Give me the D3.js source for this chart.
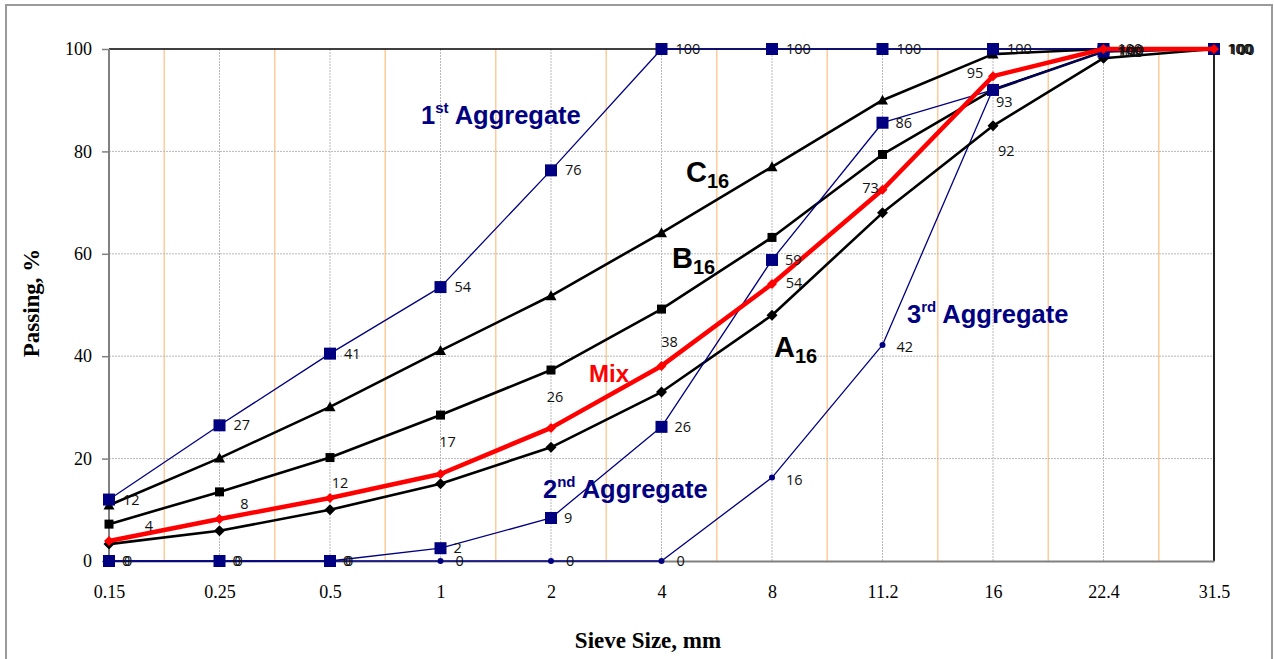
<!DOCTYPE html>
<html>
<head>
<meta charset="utf-8">
<script src="https://cdn.jsdelivr.net/npm/d3@7"></script>
<style>
    body { margin: 0; background: #fff; }
    svg { display: block; }
</style>
</head>
<body>
<div class="chart"></div>
<script>
// sieve sizes, mm
var sizes = ["0.15", "0.25", "0.5", "1", "2", "4", "8", "11.2", "16", "22.4", "31.5"];

// passing, %
var agg1 = [12, 26.5, 40.5, 53.5, 76.3, 100, 100, 100, 100, 100, 100];
var agg2 = [0, 0, 0, 2.5, 8.4, 26.2, 58.8, 85.6, 92, 99.5, 100];
var agg3 = [0, 0, 0, 0, 0, 0, 16.3, 42.2, 92.2, 99.5, 100];
var gradA = [3.3, 5.9, 10, 15.1, 22.2, 33, 48, 68, 85, 98.2, 100];
var gradB = [7.2, 13.5, 20.2, 28.5, 37.3, 49.2, 63.2, 79.4, 92, 99.5, 100];
var gradC = [10.9, 20.1, 30.1, 41.1, 51.8, 64.1, 77, 90, 99, 100, 100];
var mix = [3.9, 8.2, 12.3, 17, 26, 38.1, 54.1, 72.5, 94.7, 100, 100];

// data labels as printed on the chart
var agg1Labels = ["12", "27", "41", "54", "76", "100", "100", "100", "100", "100", "100"];
var agg2Labels = ["0", "0", "0", "2", "9", "26", "59", "86", "93", "100", "100"];
var agg3Labels = ["0", "0", "0", "0", "0", "0", "16", "42", "92", "100", "100"];
var mixLabels = ["4", "8", "12", "17", "26", "38", "54", "73", "95", "100", "100"];

var yTicks = [0, 20, 40, 60, 80, 100];

// label nudges (pixels), layout only
var mixLabelOffsets = [[40, -10], [25, -10], [10, -10], [7, -27], [4, -26], [8, -19], [22, 4], [-12, 3], [-18, 2], [28, 6], [28, 6]];

var W = 1274;
var H = 659;
var plotLeft = 109, plotRight = 1214, plotTop = 49, plotBottom = 561;
var NAVY = "#000080";

var svg = d3.select(".chart")
    .append("svg")
    .attr("width", W)
    .attr("height", H);

// outer frame
svg.append("rect")
    .attr("x", 6).attr("y", 5)
    .attr("width", 1266).attr("height", 700)
    .attr("fill", "#fff")
    .attr("stroke", "#9a9a9a")
    .attr("stroke-width", 2);

var x = d3.scalePoint().domain(sizes).range([plotLeft, plotRight]);
var y = d3.scaleLinear().domain([0, 100]).range([plotBottom, plotTop]);
var step = x.step();

// orange separators between sieve sizes
svg.append("g")
    .selectAll("line")
    .data(sizes.slice(1))
    .enter()
    .append("line")
    .attr("x1", function(d) { return x(d) - step / 2; })
    .attr("x2", function(d) { return x(d) - step / 2; })
    .attr("y1", plotTop)
    .attr("y2", plotBottom)
    .attr("stroke", "#ffcc99")
    .attr("stroke-width", 1.5);

// dotted grey grid
svg.append("g")
    .selectAll("line")
    .data(sizes.slice(1, -1))
    .enter()
    .append("line")
    .attr("x1", function(d) { return x(d); })
    .attr("x2", function(d) { return x(d); })
    .attr("y1", plotTop)
    .attr("y2", plotBottom)
    .attr("stroke", "#b8b8b8")
    .attr("stroke-dasharray", "2,1");

svg.append("g")
    .selectAll("line")
    .data(yTicks.slice(1, -1))
    .enter()
    .append("line")
    .attr("x1", plotLeft)
    .attr("x2", plotRight)
    .attr("y1", function(d) { return y(d); })
    .attr("y2", function(d) { return y(d); })
    .attr("stroke", "#b8b8b8")
    .attr("stroke-dasharray", "2,1");

// plot border (top/right)
svg.append("line")
    .attr("x1", plotLeft).attr("x2", plotRight)
    .attr("y1", y(100)).attr("y2", y(100))
    .attr("stroke", "#000").attr("stroke-width", 1.5);
svg.append("line")
    .attr("x1", plotRight).attr("x2", plotRight)
    .attr("y1", plotTop).attr("y2", plotBottom)
    .attr("stroke", "#222").attr("stroke-width", 2);

// axes
var yAxis = svg.append("g")
    .attr("transform", "translate(" + plotLeft + ",0)")
    .call(d3.axisLeft(y).tickValues(yTicks).tickSize(7).tickPadding(10));
var xAxis = svg.append("g")
    .attr("transform", "translate(0," + plotBottom + ")")
    .call(d3.axisBottom(x).tickSize(0).tickPadding(24));

[yAxis, xAxis].forEach(function(ax) {
    ax.select(".domain").attr("stroke", "#808080").attr("stroke-width", 2);
    ax.selectAll(".tick line").attr("stroke", "#808080").attr("stroke-width", 1.5);
    ax.selectAll("text")
        .attr("font-family", "'Liberation Serif', 'Times New Roman', serif")
        .attr("font-size", 18)
        .attr("fill", "#000");
});
yAxis.select(".domain").attr("d", "M0," + plotTop + "V" + plotBottom);

// axis titles
svg.append("text")
    .attr("transform", "translate(39,303) rotate(-90)")
    .attr("text-anchor", "middle")
    .attr("font-family", "'Liberation Serif', 'Times New Roman', serif")
    .attr("font-weight", "bold")
    .attr("font-size", 23)
    .text("Passing, %");

svg.append("text")
    .attr("x", 648)
    .attr("y", 648)
    .attr("text-anchor", "middle")
    .attr("font-family", "'Liberation Serif', 'Times New Roman', serif")
    .attr("font-weight", "bold")
    .attr("font-size", 23)
    .text("Sieve Size, mm");

// series
var series = [
    { name: "3rd", values: agg3, color: NAVY, width: 1.3, marker: "dot", size: 3 },
    { name: "A16", values: gradA, color: "#000", width: 2.6, marker: "diamond", size: 11 },
    { name: "B16", values: gradB, color: "#000", width: 2.6, marker: "square", size: 9 },
    { name: "C16", values: gradC, color: "#000", width: 2.6, marker: "triangle", size: 11 },
    { name: "2nd", values: agg2, color: NAVY, width: 1.3, marker: "square", size: 12 },
    { name: "1st", values: agg1, color: NAVY, width: 1.3, marker: "square", size: 12 },
    { name: "Mix", values: mix, color: "#ff0000", width: 4.5, marker: "diamond", size: 10 }
];

var markerPath = function(type, s) {
    var h = s / 2;
    if (type === "square") {
        return "M" + (-h) + "," + (-h) + "h" + s + "v" + s + "h" + (-s) + "Z";
    }
    if (type === "diamond") {
        return "M0," + (-h) + "L" + h + ",0L0," + h + "L" + (-h) + ",0Z";
    }
    if (type === "triangle") {
        return "M0," + (-h) + "L" + h + "," + (h * 0.8) + "L" + (-h) + "," + (h * 0.8) + "Z";
    }
    return "";
};

series.forEach(function(s) {
    var pts = s.values.map(function(v, i) { return [sizes[i], v]; });
    var line = d3.line()
        .x(function(d) { return x(d[0]); })
        .y(function(d) { return y(d[1]); });

    var g = svg.append("g");
    g.append("path")
        .datum(pts)
        .attr("d", line)
        .attr("fill", "none")
        .attr("stroke", s.color)
        .attr("stroke-width", s.width)
        .attr("stroke-linejoin", "round");

    if (s.marker === "dot") {
        g.selectAll("circle")
            .data(pts)
            .enter()
            .append("circle")
            .attr("cx", function(d) { return x(d[0]); })
            .attr("cy", function(d) { return y(d[1]); })
            .attr("r", s.size)
            .attr("fill", s.color);
    } else {
        g.selectAll(".mk")
            .data(pts)
            .enter()
            .append("path")
            .attr("class", "mk")
            .attr("transform", function(d) { return "translate(" + x(d[0]) + "," + y(d[1]) + ")"; })
            .attr("d", markerPath(s.marker, s.size))
            .attr("fill", s.color);
    }
});

// data labels
var labelFont = "'Open Sans', 'DejaVu Sans', sans-serif";
var addLabels = function(values, labels, offsets, anchor) {
    svg.append("g")
        .selectAll("text")
        .data(values)
        .enter()
        .append("text")
        .attr("x", function(d, i) { return x(sizes[i]) + offsets(i)[0]; })
        .attr("y", function(d, i) { return y(d) + offsets(i)[1]; })
        .attr("text-anchor", anchor)
        .attr("font-family", labelFont)
        .attr("font-size", 14.5)
        .attr("fill", "#111")
        .text(function(d, i) { return labels[i]; });
};

addLabels(agg1, agg1Labels, function(i) { return [14, 5]; }, "start");
addLabels(agg2, agg2Labels, function(i) { return i === 8 ? [3, 17] : [13, 5]; }, "start");
addLabels(agg3, agg3Labels, function(i) {
    if (i === 8) { return [5, 67]; }
    if (i === 6 || i === 7) { return [14, 7]; }
    return [15, 5];
}, "start");
addLabels(mix, mixLabels, function(i) { return mixLabelOffsets[i]; }, "middle");

// annotations
var annotate = function(xp, yp, main, script, rest, color, size, isSuper) {
    var t = svg.append("text")
        .attr("x", xp)
        .attr("y", yp)
        .attr("font-family", "'Liberation Sans', Arial, sans-serif")
        .attr("font-weight", "bold")
        .attr("font-size", size)
        .attr("fill", color);
    t.append("tspan").text(main);
    var shift = isSuper ? -11 : 6;
    t.append("tspan")
        .attr("dy", shift)
        .attr("font-size", isSuper ? 15 : 20)
        .text(script);
    if (rest) {
        t.append("tspan")
            .attr("dy", -shift)
            .text(rest);
    }
};

annotate(421, 124, "1", "st", " Aggregate", NAVY, 25.5, true);
annotate(543, 498, "2", "nd", " Aggregate", NAVY, 25.5, true);
annotate(907, 323, "3", "rd", " Aggregate", NAVY, 25.5, true);
annotate(686, 182, "C", "16", null, "#000", 29, false);
annotate(672, 268, "B", "16", null, "#000", 29, false);
annotate(774, 357, "A", "16", null, "#000", 29, false);

svg.append("text")
    .attr("x", 589)
    .attr("y", 382)
    .attr("font-family", "'Liberation Sans', Arial, sans-serif")
    .attr("font-weight", "bold")
    .attr("font-size", 24)
    .attr("fill", "#ff0000")
    .text("Mix");
</script>
</body>
</html>
